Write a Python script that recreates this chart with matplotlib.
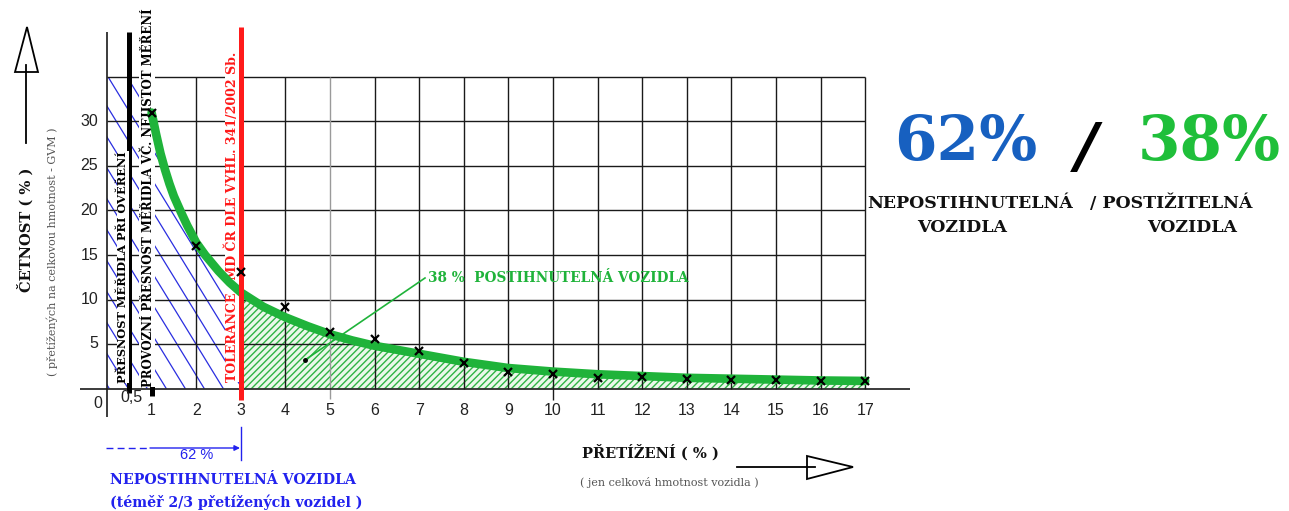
import numpy as np
import matplotlib
matplotlib.use("Agg")
import matplotlib.pyplot as plt
from matplotlib.patches import Polygon

# ---------------- data ----------------
curve_x = [1, 1.1, 1.2, 1.3, 1.4, 1.5, 1.65, 1.8, 2, 2.2, 2.5, 2.75, 3, 3.5, 4, 4.5, 5, 5.5, 6, 7, 8, 9, 10, 11, 12, 13, 14, 15, 16, 17]
curve_y = [31, 28.6, 26.4, 24.6, 23.0, 21.6, 19.9, 18.3, 16.4, 15.0, 13.2, 11.9, 10.8, 9.2, 8.0, 7.0, 6.1, 5.4, 4.8, 3.9, 3.0, 2.3, 1.9, 1.6, 1.4, 1.2, 1.1, 1.0, 0.9, 0.85]
obs_x = list(range(1, 18))
obs_y = [31, 16, 13.1, 9.2, 6.4, 5.6, 4.2, 2.9, 1.8, 1.6, 1.2, 1.3, 1.1, 0.9, 0.9, 0.85, 0.8]
x_ticks = list(range(1, 18))
y_ticks = [5, 10, 15, 20, 25, 30]
tolerance_x = 3
grid_top = 35
grid_right = 17

# -------------- layout helpers (pixel -> data) --------------
W, H = 1289, 511
X0, SX = 107.0, 44.6
Y0, SY = 388.5, 8.9
def px(x):
    return (x - X0) / SX
def py(y):
    return (Y0 - y) / SY

SERIF = ["DejaVu Serif"]
SANS = ["Liberation Sans", "DejaVu Sans"]
GREEN = "#1fb33a"
BLUE_TXT = "#2222ee"
RED = "#ff1a1a"

plt.rcParams["hatch.linewidth"] = 1.0
fig = plt.figure(figsize=(W / 100, H / 100), dpi=100)
ax = fig.add_axes([0, 0, 1, 1])
ax.set_xlim(px(0), px(W))
ax.set_ylim(py(H), py(0))
ax.axis("off")

# ---------------- blue hatched region (x 0..3) ----------------
cx = np.array(curve_x)
cy = np.array(curve_y)
sel = cx <= tolerance_x
verts = [(0, 0), (0, grid_top), (1, grid_top)] + list(zip(cx[sel], cy[sel])) + [(tolerance_x, 0)]
region = Polygon(verts, closed=True, facecolor="none", edgecolor="none")
ax.add_patch(region)
slope = 1.63 * SX / SY
for c in np.arange(0.05, tolerance_x + 45 / slope, 19 / SX):
    ln, = ax.plot([c - 45 / slope, c], [45, 0], color="#2a2ee0", lw=0.9, zorder=1)
    ln.set_clip_path(region)

# ---------------- green hatched region (x 3..17) ----------------
s2 = cx >= tolerance_x
ax.fill_between(cx[s2], 0, cy[s2], facecolor="#eaf8ea", hatch="/////",
                edgecolor="#2fb344", lw=0, zorder=1)

# ---------------- grid ----------------
GRID = "#1a1a1a"
ax.hlines([5, 10, 15, 20, 25, 30, 35], 0, grid_right, color=GRID, lw=1.0, zorder=2)
for x in range(2, grid_right + 1):
    if x == tolerance_x:
        continue
    if x == 5:
        ax.vlines(x, -1.2, grid_top, color="#9a9a9a", lw=1.0, zorder=2)
    elif x == 10:
        ax.vlines(x, -1.3, grid_top, color=GRID, lw=1.0, zorder=2)
    else:
        ax.vlines(x, 0, grid_top, color=GRID, lw=1.0, zorder=2)
# axes lines
ax.vlines(0, -3.2, 40, color=GRID, lw=1.2, zorder=2)
ax.hlines(0, -0.6, 18.0, color=GRID, lw=1.2, zorder=2)

# thick black gauge lines
ax.vlines(0.5, -0.5, 40, color="black", lw=3.6, zorder=3)
ax.vlines(1, -0.8, 40, color="black", lw=3.6, zorder=3)

# ---------------- vertical texts ----------------
bb = dict(facecolor="white", edgecolor="none", pad=0.3)
ax.text(px(123), py(383), "PŘESNOST MĚŘIDLA PŘI OVĚŘENÍ", rotation=90,
        ha="center", va="bottom", family=SERIF, weight="bold", fontsize=8.2,
        color="black", zorder=4, bbox=bb)
ax.text(px(147), py(387), "PROVOZNÍ PŘESNOST MĚŘIDLA VČ. NEJISTOT MĚŘENÍ", rotation=90,
        ha="center", va="bottom", family=SERIF, weight="bold", fontsize=8.5,
        color="black", zorder=4, bbox=bb)
ax.text(px(232), py(382), "TOLERANCE   MD ČR DLE VYHL. 341/2002 Sb.", rotation=90,
        ha="center", va="bottom", family=SERIF, weight="bold", fontsize=9.0,
        color=RED, zorder=4, bbox=bb)

# curve
ax.plot(cx, cy, color=GREEN, lw=6.2, solid_capstyle="round", solid_joinstyle="round", zorder=5)
# red tolerance line
ax.vlines(tolerance_x, -1.3, 40.6, color=RED, lw=3.6, zorder=6)
# observations
ax.plot(obs_x, obs_y, ls="none", marker="x", ms=6, mew=1.6, color="black", zorder=7)

# ---------------- ticks ----------------
TICK = "#222222"
for x in x_ticks:
    ax.text(x, py(410), str(x), ha="center", va="center", family=SANS, fontsize=11.5, color=TICK)
for y in y_ticks:
    ax.text(px(98), y, str(y), ha="right", va="center", family=SANS, fontsize=11.5, color=TICK)
ax.text(px(102), py(403), "0", ha="right", va="center", family=SANS, fontsize=11.5, color=TICK)
ax.text(px(131), py(397), "0,5", ha="center", va="center", family=SANS, fontsize=11.5, color=TICK)

# ---------------- y axis label + arrow ----------------
ax.text(px(25), py(230), "ČETNOST ( % )", rotation=90, ha="center", va="center",
        family=SERIF, weight="bold", fontsize=10.5, color="#111")
ax.text(px(52), py(252), "( přetížených na celkovou hmotnost - GVM )", rotation=90,
        ha="center", va="center", family=SERIF, fontsize=8, color="#555")
ax.plot([px(26), px(26)], [py(143), py(65)], color="black", lw=1.3)
ax.add_patch(Polygon([(px(15), py(72)), (px(38), py(72)), (px(27), py(27))], closed=True,
                     facecolor="white", edgecolor="black", lw=1.3))

# ---------------- x axis label + arrow ----------------
ax.text(px(582), py(452), "PŘETÍŽENÍ ( % )", ha="left", va="center",
        family=SERIF, weight="bold", fontsize=10.5, color="#111")
ax.text(px(580), py(482), "( jen celková hmotnost vozidla )", ha="left", va="center",
        family=SERIF, fontsize=8, color="#555")
ax.plot([px(737), px(815)], [py(467), py(467)], color="black", lw=1.3)
ax.add_patch(Polygon([(px(807), py(456)), (px(807), py(479)), (px(853), py(467))], closed=True,
                     facecolor="white", edgecolor="black", lw=1.3))

# ---------------- green annotation ----------------
ax.plot([px(305), px(425)], [py(360), py(278)], color=GREEN, lw=1.2, zorder=8)
ax.plot([px(305)], [py(360)], marker="o", ms=2.5, color="black", zorder=8)
ax.text(px(428), py(278), "38 %  POSTIHNUTELNÁ VOZIDLA", ha="left", va="center",
        family=SERIF, weight="bold", fontsize=9.8, color=GREEN, zorder=8)

# ---------------- blue bottom-left annotation ----------------
ax.plot([px(106), px(150)], [py(448), py(448)], color=BLUE_TXT, lw=1.0, ls=(0, (5, 3)))
ax.annotate("", xy=(px(240), py(448)), xytext=(px(150), py(448)),
            arrowprops=dict(arrowstyle="-|>", color=BLUE_TXT, lw=1.0, mutation_scale=8,
                            shrinkA=0, shrinkB=0))
ax.plot([px(241), px(241)], [py(427), py(460)], color=BLUE_TXT, lw=1.0)
ax.text(px(197), py(455), "62 %", ha="center", va="center", family=SANS, fontsize=10.5, color=BLUE_TXT)
ax.text(px(110), py(480), "NEPOSTIHNUTELNÁ VOZIDLA", ha="left", va="center",
        family=SERIF, weight="bold", fontsize=10.2, color=BLUE_TXT)
ax.text(px(110), py(502), "(téměř 2/3 přetížených vozidel )", ha="left", va="center",
        family=SERIF, weight="bold", fontsize=10.2, color=BLUE_TXT)

# ---------------- right summary ----------------
ax.text(px(966), py(143), "62%", ha="center", va="center", family=SERIF, weight="bold",
        fontsize=44, color="#1760c0")
ax.text(px(1087), py(149), "/", ha="center", va="center", family=["DejaVu Sans"], weight="bold",
        style="italic", fontsize=44, color="black")
ax.text(px(1209), py(143), "38%", ha="center", va="center", family=SERIF, weight="bold",
        fontsize=44, color="#1fbf3a")
ax.text(px(970), py(203), "NEPOSTIHNUTELNÁ", ha="center", va="center", family=SERIF,
        weight="bold", fontsize=12.5, color="#111")
ax.text(px(1090), py(203), "/ POSTIŽITELNÁ", ha="left", va="center", family=SERIF,
        weight="bold", fontsize=12.5, color="#111")
ax.text(px(962), py(227), "VOZIDLA", ha="center", va="center", family=SERIF,
        weight="bold", fontsize=12.5, color="#111")
ax.text(px(1192), py(227), "VOZIDLA", ha="center", va="center", family=SERIF,
        weight="bold", fontsize=12.5, color="#111")

fig.savefig("out.png", dpi=100)
